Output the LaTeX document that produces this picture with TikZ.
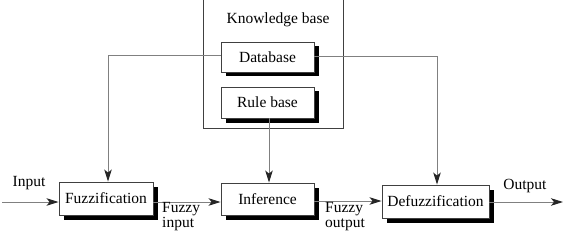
\documentclass[tikz,border=0pt]{standalone}
\usepackage{fontspec}
\setmainfont{Liberation Serif}
\usetikzlibrary{shadows,arrows.meta}
\begin{document}
\begin{tikzpicture}[x=1pt,y=-1pt,
  font=\fontsize{15.5}{17}\selectfont,
  blockbox/.style={draw=black!75, line width=0.9pt, fill=white, inner sep=0pt,
    drop shadow={shadow xshift=4.5pt, shadow yshift=-4.5pt, fill=black, opacity=1}},
  wire/.style={draw=black!50, line width=1pt},
  flow/.style={wire, -{Stealth[length=12pt,width=7.5pt,inset=3pt,fill=black!85,color=black!85]}},
  lbl/.style={inner sep=0pt, align=left}]
\useasboundingbox (0,0) rectangle (577,243);
% knowledge base enclosure (open past the top edge)
\draw[draw=black!75, line width=0.9pt] (203,-5) rectangle (343,128);
\node[lbl] (kb) at (278,20) {Knowledge base};
% stores inside the knowledge base
\node[blockbox, minimum width=93pt, minimum height=30pt] (db) at (267.5,57) {Database};
\node[blockbox, minimum width=93pt, minimum height=31pt] (rb) at (267.5,102.5) {Rule base};
% processing chain
\node[blockbox, minimum width=94pt, minimum height=33pt] (fz) at (106,198.5) {Fuzzification};
\node[blockbox, minimum width=93pt, minimum height=32pt] (inf) at (267.5,199) {Inference};
\node[blockbox, minimum width=107pt, minimum height=33pt] (dfz) at (435.5,201.5) {Defuzzification};
% free ends and bends
\coordinate (in0) at (2,202);
\coordinate (out1) at (563,202);
\coordinate (bl) at (108,56);
\coordinate (br) at (437,57);
% input / output
\node[lbl] (inlbl) at (29,183) {Input};
\node[lbl] (outlbl) at (525,186) {Output};
\draw[flow] (in0) -- (fz.west |- in0);
\draw[flow] (dfz.east |- out1) -- (out1);
% chain arrows
\draw[flow] (fz.east |- 0,202) -- (inf.west |- 0,202);
\draw[flow] (inf.east |- 0,201) -- (dfz.west |- 0,201);
\node[lbl, anchor=north west] (fin) at (162,202) {Fuzzy\\[-2pt]input};
\node[lbl, anchor=north west] (fout) at (325,202) {Fuzzy\\[-2pt]output};
% knowledge base feeds
\draw[flow] (db.west |- bl) -- (bl) -- (fz.north -| bl);
\draw[flow] (db.east |- br) -- (br) -- (dfz.north -| br);
\draw[flow] (rb.south -| 269,0) -- (inf.north -| 269,0);
\end{tikzpicture}
\end{document}
